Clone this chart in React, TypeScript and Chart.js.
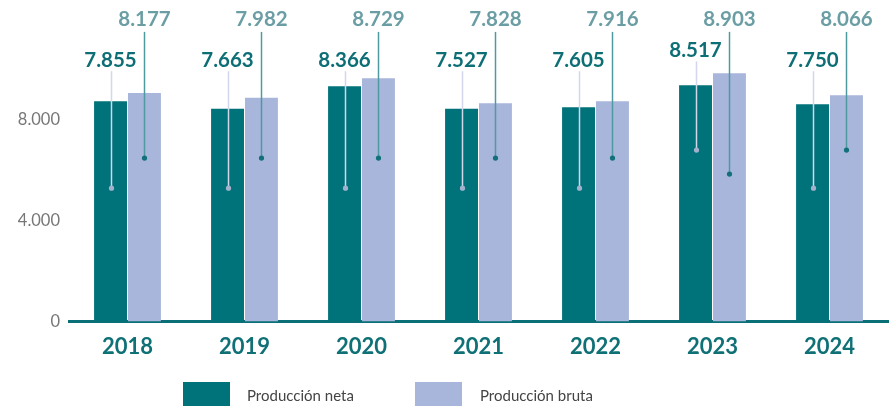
import React, { useEffect, useRef } from "react";
import { Chart, registerables } from "chart.js";

Chart.register(...registerables);

const categories = ["2018", "2019", "2020", "2021", "2022", "2023", "2024"];
const netaValues = [8750, 8450, 9350, 8450, 8515, 9385, 8635];
const brutaValues = [9080, 8885, 9665, 8675, 8750, 9860, 8990];
const netaLabels = ["7.855", "7.663", "8.366", "7.527", "7.605", "8.517", "7.750"];
const brutaLabels = ["8.177", "7.982", "8.729", "7.828", "7.916", "8.903", "8.066"];
const netaLabelLevel = [10380, 10380, 10380, 10380, 10380, 10770, 10380];
const brutaLabelLevel = [12020, 12020, 12020, 12020, 12020, 12020, 12020];
const netaLeaderEnd = [5300, 5300, 5300, 5300, 5300, 6810, 5300];
const brutaLeaderEnd = [6495, 6495, 6495, 6495, 6495, 5860, 6810];
const yTicks = [0, 4000, 8000];
const seriesNames = ["Producción neta", "Producción bruta"];

const TEAL = "#00727a";
const LAVENDER = "#a8b6db";
const FONT = "Lato, 'Noto Sans', sans-serif";

const fmt = (v: number) => String(v).replace(/\B(?=(\d{3})+(?!\d))/g, ".");

const calloutPlugin = {
  id: "callouts",
  afterDatasetsDraw(chart: any) {
    const ctx = chart.ctx;
    const y = chart.scales.y;
    const cfgs = [
      { labels: netaLabels, level: netaLabelLevel, end: netaLeaderEnd, line: "#d3d7ec", dot: "#a3b1cc", text: "#0d6f75", gap: 11 },
      { labels: brutaLabels, level: brutaLabelLevel, end: brutaLeaderEnd, line: "#4f9aa1", dot: "#11707a", text: "#6b9ea4", gap: 13 },
    ];
    ctx.save();
    cfgs.forEach((cfg, di) => {
      const meta = chart.getDatasetMeta(di);
      meta.data.forEach((bar: any, j: number) => {
        const x = Math.round(bar.x) + 0.5;
        const ly = y.getPixelForValue(cfg.level[j]);
        const dy = y.getPixelForValue(cfg.end[j]);
        ctx.strokeStyle = cfg.line;
        ctx.lineWidth = 1.5;
        ctx.beginPath();
        ctx.moveTo(x, ly + cfg.gap);
        ctx.lineTo(x, dy);
        ctx.stroke();
        ctx.fillStyle = cfg.dot;
        ctx.beginPath();
        ctx.arc(x, dy, 2.6, 0, Math.PI * 2);
        ctx.fill();
        ctx.fillStyle = cfg.text;
        ctx.font = `bold 20.5px ${FONT}`;
        ctx.textAlign = "center";
        ctx.textBaseline = "middle";
        ctx.fillText(cfg.labels[j], bar.x, ly);
      });
    });
    ctx.restore();
  },
};

export default function App() {
  const ref = useRef<HTMLCanvasElement>(null);
  useEffect(() => {
    if (!ref.current) return;
    const chart = new Chart(ref.current, {
      type: "bar",
      data: {
        labels: categories,
        datasets: [
          { label: seriesNames[0], data: netaValues, backgroundColor: TEAL, categoryPercentage: 0.58, barPercentage: 0.97 },
          { label: seriesNames[1], data: brutaValues, backgroundColor: LAVENDER, categoryPercentage: 0.58, barPercentage: 0.97 },
        ],
      },
      options: {
        animation: false,
        responsive: true,
        maintainAspectRatio: false,
        layout: { padding: { left: 0, right: 8, top: 0, bottom: 42 } },
        plugins: { legend: { display: false }, tooltip: { enabled: false } },
        scales: {
          x: {
            grid: { display: false },
            border: { display: true, color: "#0b6f77", width: 3 },
            ticks: { color: "#0f7076", font: { family: FONT, size: 22, weight: "bold" }, padding: 4 },
          },
          y: {
            min: 0,
            max: 12020,
            grid: { display: false, drawTicks: false },
            border: { display: false },
            afterBuildTicks: (s: any) => {
              s.ticks = yTicks.map((v) => ({ value: v }));
            },
            afterFit: (s: any) => {
              s.width = 69;
            },
            ticks: {
              color: "#777777",
              font: { family: FONT, size: 16.5 },
              padding: 9,
              callback: (v: any) => fmt(Number(v)),
            },
          },
        },
      },
      plugins: [calloutPlugin],
    });
    return () => chart.destroy();
  }, []);

  const legendItem = (left: number, color: string, textLeft: number, text: string) => (
    <>
      <div style={{ position: "absolute", left, top: 382, width: 47, height: 24, background: color }} />
      <div
        style={{
          position: "absolute",
          left: textLeft,
          top: 386,
          fontFamily: FONT,
          fontSize: 15,
          color: "#444",
          lineHeight: "18px",
          whiteSpace: "nowrap",
        }}
      >
        {text}
      </div>
    </>
  );

  return (
    <div style={{ position: "fixed", left: 0, top: 0, width: 896, height: 406, background: "#fff" }}>
      <canvas ref={ref} style={{ position: "absolute", left: 0, top: 0, width: 896, height: 406 }} />
      {legendItem(183, TEAL, 247, seriesNames[0])}
      {legendItem(415, LAVENDER, 480, seriesNames[1])}
    </div>
  );
}
